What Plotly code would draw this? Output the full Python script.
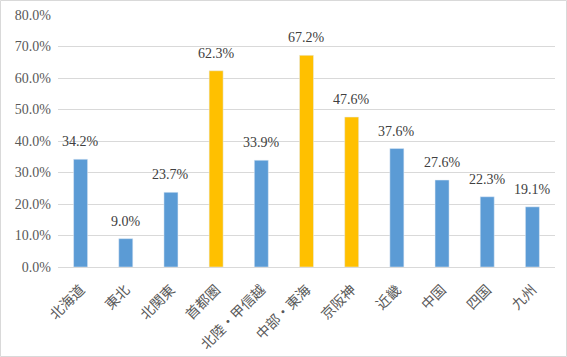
import plotly.graph_objects as go

categories = ["北海道", "東北", "北関東", "首都圏", "北陸・甲信越", "中部・東海", "京阪神", "近畿", "中国", "四国", "九州"]
values = [34.2, 9.0, 23.7, 62.3, 33.9, 67.2, 47.6, 37.6, 27.6, 22.3, 19.1]
highlight = ["首都圏", "中部・東海", "京阪神"]
y_ticks = [0, 10, 20, 30, 40, 50, 60, 70, 80]

colors = ["#FFC000" if c in highlight else "#5B9BD5" for c in categories]

L, R, T, B = 58, 12, 15, 90
W, H = 567, 357
pw, ph = W - L - R, H - T - B

fig = go.Figure(go.Bar(
    x=categories, y=values, marker_color=colors, width=0.31,
))

annotations = [
    dict(x=c, y=v, xref="x", yref="y", text=f"{v:.1f}%", showarrow=False,
         yanchor="bottom", yshift=8,
         font=dict(size=14, color="#404040", family="Liberation Serif, Noto Sans CJK JP"))
    for c, v in zip(categories, values)
]

fig.update_layout(
    width=W, height=H,
    margin=dict(l=L, r=R, t=T, b=B, autoexpand=False),
    paper_bgcolor="white", plot_bgcolor="white",
    showlegend=False,
    font=dict(family="Noto Sans CJK JP", color="#595959"),
    xaxis=dict(tickangle=-45, tickfont=dict(size=14, color="#595959", family="Noto Sans CJK JP"),
               showline=True, linecolor="#D9D9D9", linewidth=1, ticks="", automargin=False,
               ticklabelstandoff=8),
    yaxis=dict(range=[0, 80], tickvals=y_ticks, ticktext=[f"{t:.1f}%" for t in y_ticks],
               tickfont=dict(size=14, color="#595959", family="Liberation Serif, Noto Sans CJK JP"),
               showgrid=True, gridcolor="#D9D9D9", zeroline=False, ticks="",
               ticklabelstandoff=6, automargin=False),
    annotations=annotations,
    shapes=[dict(type="rect", xref="paper", yref="paper",
                 x0=-(L - 0.5) / pw, x1=1 + (R - 0.5) / pw,
                 y0=-(B - 0.5) / ph, y1=1 + (T - 0.5) / ph,
                 line=dict(color="#D9D9D9", width=1))],
)

fig.write_html("out.html", config={"displayModeBar": False},
               post_script="document.body.style.margin='0';")
